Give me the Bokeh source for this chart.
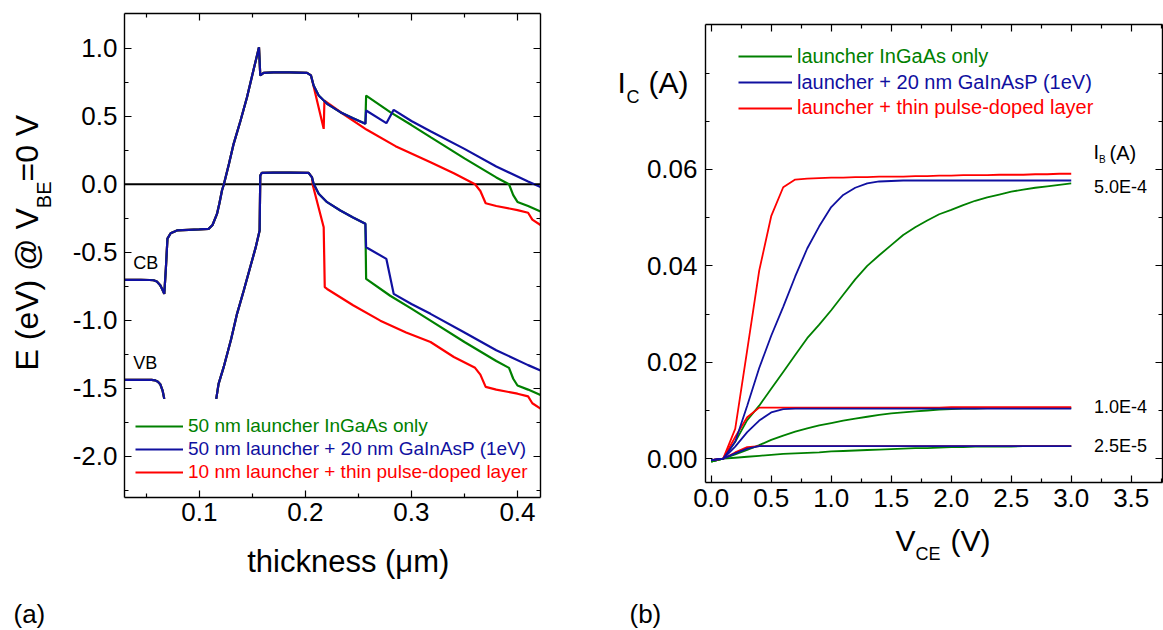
import math
from bokeh.plotting import figure
from bokeh.models import LinearAxis, FixedTicker, Label, Legend, LegendItem
from bokeh.layouts import row
from bokeh.embed import file_html
from bokeh.resources import INLINE

FONT = "Liberation Sans"
GREEN = "#008000"
BLUE = "#1010a0"
RED = "#ff0000"
NAN = float("nan")

# ---------------- panel (a): band diagram ----------------
common_x = [0.0295, 0.0450, 0.0530, 0.0569, 0.0600, 0.0630, 0.0650, 0.0670, 0.0685, 0.0700,
            0.0730, 0.0790, 0.0900, 0.1000, 0.1088, 0.1125, 0.1167, 0.1190, 0.1214, 0.1232,
            0.1280, 0.1324, 0.1390, 0.1450, 0.1505, 0.1563, 0.1575, 0.1607, 0.1700, 0.1850, 0.2016]
common_cb = [-0.703, -0.703, -0.704, -0.706, -0.715, -0.740, -0.770, -0.806, -0.620, -0.400,
             -0.360, -0.340, -0.335, -0.332, -0.328, -0.300, -0.218, -0.140, -0.046, 0.000,
             0.150, 0.297, 0.470, 0.640, 0.820, 1.007, 0.800, 0.819, 0.822, 0.822, 0.819]

vb_left_x = [0.0295, 0.0450, 0.0550, 0.0585, 0.0610, 0.0632, 0.0655, 0.0670]
vb_left = [-1.438, -1.438, -1.439, -1.442, -1.452, -1.470, -1.520, -1.578]
vb_mid_x = [0.1160, 0.1182, 0.1230, 0.1300, 0.1356, 0.1420, 0.1480, 0.1530, 0.1569, 0.1575,
            0.1590, 0.1700, 0.1850, 0.2031]
vb_mid = [-1.578, -1.468, -1.345, -1.140, -0.953, -0.780, -0.610, -0.470, -0.340, 0.064,
          0.084, 0.085, 0.085, 0.084]

lg_cb_x = [0.2053, 0.2078, 0.2126, 0.2205, 0.2330, 0.2450, 0.2566]
lg_cb = [0.800, 0.726, 0.652, 0.591, 0.530, 0.485, 0.444]
lg_vb_x = [0.2063, 0.2078, 0.2126, 0.2205, 0.2330, 0.2450, 0.2566]
lg_vb = [0.050, 0.003, -0.070, -0.132, -0.193, -0.245, -0.291]

green_cb_x = [0.2573, 0.2800, 0.3000, 0.3180, 0.3500, 0.3800, 0.3920, 0.3960, 0.4000, 0.4100, 0.4217]
green_cb = [0.652, 0.530, 0.435, 0.346, 0.190, 0.050, 0.000, -0.080, -0.130, -0.160, -0.200]
green_vb_x = [0.2573, 0.2800, 0.3000, 0.3180, 0.3500, 0.3800, 0.3920, 0.3960, 0.4000, 0.4100, 0.4217]
green_vb = [-0.696, -0.820, -0.915, -1.003, -1.160, -1.300, -1.350, -1.430, -1.480, -1.510, -1.550]

blue_cb_x = [0.2573, 0.2764, 0.2833, 0.3000, 0.3180, 0.3500, 0.3800, 0.4100, 0.4217]
blue_cb = [0.542, 0.449, 0.547, 0.465, 0.390, 0.260, 0.130, 0.020, -0.020]
blue_vb_x = [0.2573, 0.2764, 0.2833, 0.3000, 0.3180, 0.3500, 0.3800, 0.4100, 0.4217]
blue_vb = [-0.463, -0.549, -0.806, -0.880, -0.953, -1.090, -1.220, -1.330, -1.370]

red_cb_x = [0.2053, 0.2075, 0.2173, 0.2180, 0.2350, 0.2580, 0.2850, 0.3180, 0.3400, 0.3600,
            0.3650, 0.3700, 0.3800, 0.4000, 0.4100, 0.4140, 0.4217]
red_cb = [0.800, 0.730, 0.407, 0.615, 0.520, 0.400, 0.280, 0.162, 0.080, 0.000,
          -0.050, -0.140, -0.160, -0.190, -0.210, -0.260, -0.300]
red_vb_x = [0.2063, 0.2071, 0.2173, 0.2183, 0.2205, 0.2450, 0.2707, 0.2950, 0.3180, 0.3400,
            0.3600, 0.3650, 0.3700, 0.3800, 0.4000, 0.4100, 0.4140, 0.4217]
red_vb = [0.050, -0.010, -0.316, -0.757, -0.770, -0.890, -1.003, -1.090, -1.160, -1.270,
          -1.350, -1.400, -1.490, -1.510, -1.540, -1.560, -1.610, -1.650]

legend_a = ["50 nm launcher InGaAs only",
            "50 nm launcher + 20 nm GaInAsP (1eV)",
            "10 nm launcher + thin pulse-doped layer"]

a_xticks = [0.1, 0.2, 0.3, 0.4]
a_xtick_labels = ["0.1", "0.2", "0.3", "0.4"]
a_xminor = [0.05, 0.15, 0.25, 0.35]
a_yticks = [-2.0, -1.5, -1.0, -0.5, 0.0, 0.5, 1.0]
a_ytick_labels = ["-2.0", "-1.5", "-1.0", "-0.5", "0.0", "0.5", "1.0"]
a_yminor = [-2.25, -1.75, -1.25, -0.75, -0.25, 0.25, 0.75]

# ---------------- panel (b): output characteristics ----------------
vce = [0.0, 0.1, 0.2, 0.3, 0.4, 0.5, 0.6, 0.7, 0.8, 0.9, 1.0, 1.1, 1.2, 1.3, 1.4, 1.5,
       1.6, 1.7, 1.8, 1.9, 2.0, 2.1, 2.2, 2.3, 2.4, 2.5, 2.6, 2.7, 2.8, 2.9, 3.0]
green_5e4 = [-0.0006, 0.0, 0.0035, 0.0080, 0.0110, 0.0145, 0.0180, 0.0215, 0.0250, 0.0278, 0.0308,
             0.0340, 0.0372, 0.0400, 0.0422, 0.0443, 0.0464, 0.0480, 0.0494, 0.0507, 0.0516,
             0.0526, 0.0535, 0.0542, 0.0548, 0.0554, 0.0558, 0.0562, 0.0565, 0.0568, 0.0571]
blue_5e4 = [-0.0003, 0.0, 0.0035, 0.0110, 0.0188, 0.0255, 0.0315, 0.0378, 0.0436, 0.0482, 0.0522,
            0.0547, 0.0562, 0.0571, 0.0575, 0.0576, 0.0577, 0.0577, 0.0577, 0.0577, 0.0577,
            0.0577, 0.0577, 0.0577, 0.0577, 0.0577, 0.0577, 0.0577, 0.0577, 0.0577, 0.0577]
red_5e4 = [-0.0003, 0.0, 0.0062, 0.0225, 0.0390, 0.0503, 0.0563, 0.0579, 0.0581, 0.0582, 0.0583,
           0.0583, 0.0584, 0.0584, 0.0585, 0.0585, 0.0585, 0.0586, 0.0586, 0.0587, 0.0587,
           0.0588, 0.0588, 0.0588, 0.0589, 0.0589, 0.0589, 0.0590, 0.0590, 0.0591, 0.0591]
green_1e4 = [-0.0006, 0.0, 0.0009, 0.0018, 0.0028, 0.0039, 0.0048, 0.0056, 0.0063, 0.0069, 0.0074,
             0.0079, 0.0083, 0.0087, 0.0091, 0.0094, 0.0096, 0.0098, 0.0100, 0.0102, 0.0103,
             0.0104, 0.0104, 0.0105, 0.0105, 0.0105, 0.0105, 0.0105, 0.0105, 0.0105, 0.0105]
blue_1e4 = [-0.0003, 0.0, 0.0025, 0.0055, 0.0079, 0.0096, 0.0103, 0.0104, 0.0104, 0.0104, 0.0104,
            0.0104, 0.0104, 0.0104, 0.0104, 0.0104, 0.0104, 0.0104, 0.0104, 0.0104, 0.0104,
            0.0104, 0.0104, 0.0104, 0.0104, 0.0104, 0.0104, 0.0104, 0.0104, 0.0104, 0.0104]
red_1e4 = [-0.0003, 0.0, 0.0045, 0.0086, 0.0106, 0.0106, 0.0106, 0.0106, 0.0106, 0.0106, 0.0106,
           0.0106, 0.0106, 0.0106, 0.0106, 0.0106, 0.0106, 0.0106, 0.0106, 0.0106, 0.0107,
           0.0107, 0.0107, 0.0107, 0.0107, 0.0107, 0.0107, 0.0107, 0.0107, 0.0107, 0.0107]
green_25e5 = [-0.0006, 0.0, 0.0002, 0.0004, 0.0006, 0.0008, 0.0010, 0.0011, 0.0012, 0.0013, 0.0015,
              0.0016, 0.0017, 0.0018, 0.0019, 0.0020, 0.0021, 0.0022, 0.0022, 0.0023, 0.0024,
              0.0024, 0.0025, 0.0025, 0.0025, 0.0025, 0.0026, 0.0026, 0.0026, 0.0026, 0.0026]
blue_25e5 = [-0.0003, 0.0, 0.0011, 0.0021, 0.0026, 0.0026, 0.0026, 0.0026, 0.0026, 0.0026, 0.0026,
             0.0026, 0.0026, 0.0026, 0.0026, 0.0026, 0.0026, 0.0026, 0.0026, 0.0026, 0.0026,
             0.0026, 0.0026, 0.0026, 0.0026, 0.0026, 0.0026, 0.0026, 0.0026, 0.0026, 0.0026]
red_25e5 = [-0.0003, 0.0, 0.0013, 0.0024, 0.0026, 0.0026, 0.0026, 0.0026, 0.0026, 0.0026, 0.0026,
            0.0026, 0.0026, 0.0026, 0.0026, 0.0026, 0.0026, 0.0026, 0.0026, 0.0026, 0.0026,
            0.0026, 0.0026, 0.0026, 0.0026, 0.0026, 0.0026, 0.0026, 0.0026, 0.0026, 0.0026]

legend_b = ["launcher InGaAs only",
            "launcher + 20 nm GaInAsP (1eV)",
            "launcher + thin pulse-doped layer"]
ib_labels = ["5.0E-4", "1.0E-4", "2.5E-5"]
ib_label_y = [0.0563, 0.0107, 0.0027]

b_xticks = [0.0, 0.5, 1.0, 1.5, 2.0, 2.5, 3.0, 3.5]
b_xtick_labels = ["0.0", "0.5", "1.0", "1.5", "2.0", "2.5", "3.0", "3.5"]
b_xminor = [0.25, 0.75, 1.25, 1.75, 2.25, 2.75, 3.25, 3.75]
b_yticks = [0.0, 0.02, 0.04, 0.06]
b_ytick_labels = ["0.00", "0.02", "0.04", "0.06"]
b_yminor = [0.01, 0.03, 0.05, 0.07, 0.08]

# ---------------- geometry (pixels) ----------------
W1, W2, H = 600, 563, 630
A_BOX = (124.0, 540.0, 13.3, 496.7)      # left, right, top, bottom in panel-(a) pixels
B_BOX = (105.0, 561.7, 24.3, 482.3)      # in panel-(b) pixels
A_X = (0.0295, 0.4217)
A_Y = (-2.301, 1.253)
B_X = (-0.0475, 3.758)
B_Y = (-0.005, 0.090)


def full_range(box, xr, yr, w, h):
    l, r, t, b = box
    sx = (xr[1] - xr[0]) / (r - l)
    sy = (yr[1] - yr[0]) / (b - t)
    return ((xr[0] - l * sx, xr[1] + (w - r) * sx),
            (yr[0] - (h - b) * sy, yr[1] + t * sy))


def style_axis(ax, ticks, labels, minor, fs, standoff, show=True):
    ax.ticker = FixedTicker(ticks=ticks, minor_ticks=minor)
    if show:
        ax.major_label_overrides = {t: s for t, s in zip(ticks, labels)}
        ax.major_label_text_font_size = fs
    else:
        ax.major_label_overrides = {t: "" for t in ticks}
        ax.major_label_text_font_size = "0px"
    ax.major_label_text_font = FONT
    ax.major_label_text_color = "black"
    ax.major_label_standoff = standoff
    ax.major_tick_in = 7
    ax.major_tick_out = 0
    ax.minor_tick_in = 4
    ax.minor_tick_out = 0
    ax.axis_line_color = "black"
    ax.axis_line_width = 1.4
    ax.major_tick_line_color = "black"
    ax.minor_tick_line_color = "black"
    ax.major_tick_line_width = 1.2
    ax.minor_tick_line_width = 1.2


def box_axes(p, xr, yr, xt, xl, xm, yt, yl, ym, fs, xstand, ystand):
    specs = [("below", yr[0], xr, xt, xl, xm, xstand, True),
             ("above", yr[1], xr, xt, xl, xm, 0, False),
             ("left", xr[0], yr, yt, yl, ym, ystand, True),
             ("right", xr[1], yr, yt, yl, ym, 0, False)]
    for side, loc, bnd, t, lab, mn, st, show in specs:
        ax = LinearAxis(fixed_location=loc, bounds=bnd)
        style_axis(ax, t, lab, mn, fs, st, show)
        p.add_layout(ax, side)


def cat(*parts):
    out = []
    for prt in parts:
        out += list(prt)
    return out


def px_label(p, text, x, y, fs, color="black", angle=0.0):
    # (x, y): left end / vertical middle of the text, in pixels from the figure's top-left
    p.add_layout(Label(x=x, y=H - y, x_units="screen", y_units="screen", text=text,
                       angle=angle, text_font=FONT, text_font_size=fs, text_align="left",
                       text_baseline="middle", text_color=color))


def new_fig(w, box, xr, yr):
    fx, fy = full_range(box, xr, yr, w, H)
    p = figure(width=w, height=H, x_range=fx, y_range=fy, output_backend="svg",
               toolbar_location=None, x_axis_location=None, y_axis_location=None,
               min_border=0, min_border_left=0, min_border_right=0,
               min_border_top=0, min_border_bottom=0)
    p.grid.visible = False
    p.outline_line_color = None
    p.background_fill_color = "white"
    p.border_fill_color = "white"
    return p


# ============ figure (a) ============
p1 = new_fig(W1, A_BOX, A_X, A_Y)
box_axes(p1, A_X, A_Y, a_xticks, a_xtick_labels, a_xminor,
         a_yticks, a_ytick_labels, a_yminor, "26px", 6, 7)

p1.line(list(A_X), [0.0, 0.0], line_color="black", line_width=2)

LW = 2.2
series_a = [
    (RED, cat(common_x, red_cb_x), cat(common_cb, red_cb),
     cat(vb_left_x, [NAN], vb_mid_x, red_vb_x), cat(vb_left, [NAN], vb_mid, red_vb)),
    (GREEN, cat(common_x, lg_cb_x, green_cb_x), cat(common_cb, lg_cb, green_cb),
     cat(vb_left_x, [NAN], vb_mid_x, lg_vb_x, green_vb_x), cat(vb_left, [NAN], vb_mid, lg_vb, green_vb)),
    (BLUE, cat(common_x, lg_cb_x, blue_cb_x), cat(common_cb, lg_cb, blue_cb),
     cat(vb_left_x, [NAN], vb_mid_x, lg_vb_x, blue_vb_x), cat(vb_left, [NAN], vb_mid, lg_vb, blue_vb)),
]
rend_a = {}
for color, cx, cy, vx, vy in series_a:
    r = p1.line(cx, cy, line_color=color, line_width=LW)
    p1.line(vx, vy, line_color=color, line_width=LW)
    rend_a[color] = r

leg_a_bottom = [436.7, 460.0, 482.7]
for lab, color, lb in zip(legend_a, [GREEN, BLUE, RED], leg_a_bottom):
    lg = Legend(items=[LegendItem(label=lab, renderers=[rend_a[color]])],
                location=(135, H - lb), orientation="vertical",
                glyph_width=48, glyph_height=20, label_height=20, label_standoff=5,
                padding=0, margin=0, spacing=0, border_line_color=None,
                background_fill_alpha=0, label_text_font=FONT,
                label_text_font_size="19px", label_text_color=color)
    p1.add_layout(lg)

p1.add_layout(Label(x=0.0377, y=-0.581, text="CB", text_font=FONT, text_font_size="18px",
                    text_baseline="middle", text_align="left", text_color="black"))
p1.add_layout(Label(x=0.0377, y=-1.318, text="VB", text_font=FONT, text_font_size="18px",
                    text_baseline="middle", text_align="left", text_color="black"))

# axis titles and panel tag
px_label(p1, "E (eV) @ V", 26.1, 370.0, "32px", angle=math.pi / 2)
px_label(p1, "BE", 43.0, 207.7, "20px", angle=math.pi / 2)
px_label(p1, "=0 V", 26.1, 181.0, "32px", angle=math.pi / 2)
px_label(p1, "thickness (μm)", 246.7, 560.9, "31px")
px_label(p1, "(a)", 13.0, 613.5, "26px")

# ============ figure (b) ============
p2 = new_fig(W2, B_BOX, B_X, B_Y)
box_axes(p2, B_X, B_Y, b_xticks, b_xtick_labels, b_xminor,
         b_yticks, b_ytick_labels, b_yminor, "26px", 6, 8)

LW2 = 1.8
rend_b = {}
for color, curves in [(GREEN, [green_5e4, green_1e4, green_25e5]),
                      (RED, [red_5e4, red_1e4, red_25e5]),
                      (BLUE, [blue_5e4, blue_1e4, blue_25e5])]:
    rs = [p2.line(vce, c, line_color=color, line_width=LW2) for c in curves]
    rend_b[color] = rs[0]

leg_b_bottom = [67.7, 93.7, 119.3]
for lab, color, lb in zip(legend_b, [GREEN, BLUE, RED], leg_b_bottom):
    lg = Legend(items=[LegendItem(label=lab, renderers=[rend_b[color]])],
                location=(138, H - lb), orientation="vertical",
                glyph_width=54, glyph_height=22, label_height=22, label_standoff=5,
                padding=0, margin=0, spacing=0, border_line_color=None,
                background_fill_alpha=0, label_text_font=FONT,
                label_text_font_size="20px", label_text_color=color)
    p2.add_layout(lg)

for lab, ly in zip(ib_labels, ib_label_y):
    p2.add_layout(Label(x=3.19, y=ly, text=lab, text_font=FONT, text_font_size="18px",
                        text_baseline="middle", text_align="left", text_color="black"))
px_label(p2, "I", 493.0, 151.0, "20px")
px_label(p2, "B", 498.5, 159.0, "10px")
px_label(p2, "(A)", 509.0, 152.0, "20px")

px_label(p2, "I", 17.0, 81.5, "30px")
px_label(p2, "C", 26.0, 96.7, "18px")
px_label(p2, "(A)", 48.0, 81.5, "30px")
px_label(p2, "V", 295.0, 539.5, "30px")
px_label(p2, "CE", 315.0, 553.7, "18px")
px_label(p2, "(V)", 350.0, 539.5, "30px")
px_label(p2, "(b)", 29.0, 613.5, "26px")

layout = row(p1, p2)
html = file_html(layout, INLINE, title="band diagram and output characteristics")
with open("out.html", "w") as f:
    f.write(html)
